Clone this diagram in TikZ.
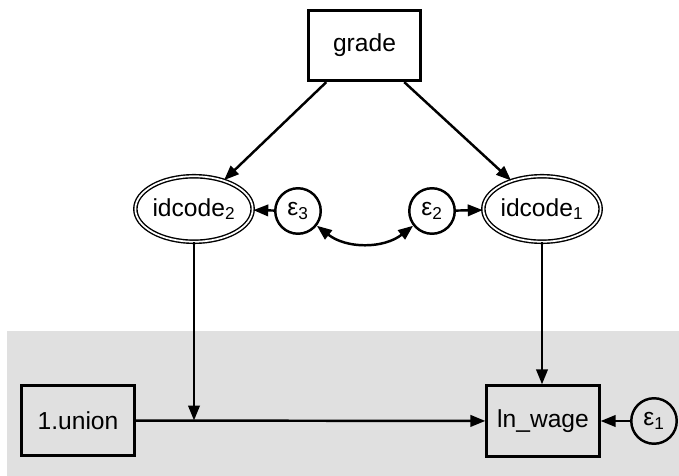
\documentclass[tikz,border=0pt]{standalone}
\usepackage{fontspec}
\setmainfont{Liberation Sans}
\usepackage{tikz}
\usetikzlibrary{arrows.meta,shapes.geometric}
\definecolor{bandgray}{RGB}{224,224,224}

\begin{document}
\begin{tikzpicture}[x=0.02cm, y=-0.02cm, >={Triangle[length=8.5pt,width=6.5pt]},
    font=\fontsize{14}{16}\selectfont,
    obs/.style={draw, line width=1.6pt, minimum width=2.25cm, minimum height=1.41cm, inner sep=0pt},
    lat/.style={ellipse, draw, double, line width=0.8pt, double distance=1pt, minimum width=2.21cm, minimum height=1.31cm, inner sep=0pt},
    err/.style={circle, draw, line width=1.4pt, minimum size=0.91cm, inner sep=0pt},
    conn/.style={->, line width=1.4pt}]
    \useasboundingbox (0,0) rectangle (679,476);
    \fill[bandgray] (7,331) rectangle (679,476);
    % nodes
    \node[obs] (grade) at (364.5,45.5) {grade};
    \node[lat] (id2) at (194,209) {idcode\textsubscript{2}};
    \node[lat] (id1) at (542,209) {idcode\textsubscript{1}};
    \node[err] (eps3) at (298,211) {ε\textsubscript{3}};
    \node[err] (eps2) at (432,211) {ε\textsubscript{2}};
    \node[obs] (union) at (78,420.5) {1.union};
    \node[obs] (wage) at (543,421) {ln\_wage};
    \node[err] (eps1) at (654,421) {ε\textsubscript{1}};
    \coordinate (mod) at (id2 |- union.east);
    % paths
    \draw[conn] (grade) -- (id2);
    \draw[conn] (grade) -- (id1);
    \draw[conn] (eps3) -- (id2);
    \draw[conn] (eps2) -- (id1);
    \draw[conn, <->] (eps3) to[bend right=38] (eps2);
    \draw[conn] (id1) -- (id1 |- wage.north);
    \draw[conn] (union) -- (wage);
    \draw[conn] (id2) -- (mod);
    \draw[conn] (eps1) -- (wage);
\end{tikzpicture}
\end{document}
